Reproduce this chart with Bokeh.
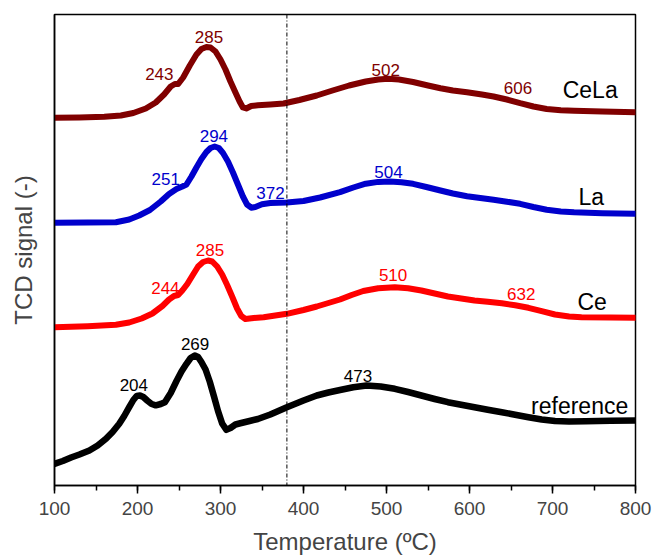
from bokeh.plotting import figure
from bokeh.models import Range1d, Span, SingleIntervalTicker, FixedTicker, ColumnDataSource
from bokeh.core.properties import value
from bokeh.embed import file_html
from bokeh.resources import INLINE

# ---- data (temperature in ºC, TCD signal in arbitrary units, curves stacked) ----
cela_T = [100, 130, 160, 180, 195, 210, 222, 232, 240, 245, 249, 255, 263, 271, 277, 283, 288, 294, 300, 306, 312, 318, 323, 327, 331, 337, 345, 360, 376, 395, 416, 435, 455, 475, 490, 502, 515, 532, 550, 565, 580, 597, 615, 629, 645, 661, 677, 693, 710, 726, 760, 800]
cela_y = [367.7, 368, 368.8, 370, 372.5, 377, 383, 391, 399, 401.5, 401.5, 408, 420, 431, 436.5, 438.5, 438, 434, 426, 416, 404, 393, 384, 378, 377, 379.5, 380.3, 381, 382, 385.5, 390, 395, 400, 404, 406, 406.7, 406, 403.5, 400, 397.3, 395, 393.3, 391, 389, 386, 382.3, 379, 376.5, 375.3, 374.8, 374, 373.3]

la_T = [100, 140, 174, 190, 202, 215, 228, 238, 247, 254, 259, 265, 271, 277, 283, 288, 293, 298, 303, 309, 315, 321, 327, 332, 337, 342, 350, 360, 380, 400, 420, 444, 460, 475, 490, 504, 518, 532, 548, 565, 580, 597, 613, 629, 645, 661, 677, 693, 710, 726, 760, 800]
la_y = [262.7, 262.9, 263.3, 266, 270, 275.5, 284, 291.5, 296.5, 299, 301, 309, 318, 326.5, 333.5, 337.5, 339, 337.5, 332.5, 324, 313, 301, 289, 281, 277.8, 278.5, 281.2, 282.5, 283, 284.5, 288, 293.3, 298, 301.8, 303.6, 304, 303.3, 301.7, 298.5, 295, 292, 289.3, 287.5, 285.7, 283.8, 281.7, 278.5, 275.7, 274, 273.2, 272.3, 271.7]

ce_T = [100, 140, 174, 190, 205, 218, 230, 238, 244, 249, 254, 260, 267, 273, 279, 285, 290, 296, 302, 308, 314, 320, 325, 330, 340, 352, 380, 400, 416, 430, 444, 458, 472, 490, 510, 526, 542, 558, 574, 590, 606, 622, 639, 655, 671, 687, 703, 720, 735, 770, 800]
ce_y = [158.3, 159.3, 160.7, 163, 167, 172, 179.5, 186, 189.5, 190.5, 195, 201.5, 211, 219, 223.5, 225, 224, 219, 211, 200.5, 189, 177, 169.5, 166.5, 167.5, 168.3, 171.7, 175.5, 179, 182.5, 186, 190.5, 194.5, 197.3, 198.3, 197.3, 195, 192, 189, 187, 185, 183.7, 182.3, 180.2, 177.7, 174.3, 171, 169, 168.3, 168, 167.7]

ref_T = [100, 110, 120, 130, 142, 152, 162, 170, 178, 184, 190, 195, 199, 203, 207, 212, 217, 222, 228, 233, 240, 247, 253, 259, 264, 269, 273, 277, 282, 287, 292, 297, 302, 307, 312, 318, 325, 335, 345, 360, 380, 400, 416, 430, 444, 460, 476, 493, 510, 526, 542, 558, 574, 590, 606, 622, 639, 655, 671, 687, 703, 720, 740, 770, 800]
ref_y = [21.7, 24.5, 28, 31, 35, 40, 46.7, 53.5, 61.7, 69.5, 78.3, 85.5, 89.5, 90, 88.5, 84.8, 81.5, 80.2, 81.5, 83.3, 92.5, 104.5, 114, 121.7, 127.5, 130, 128.5, 123.5, 116, 104, 89.5, 74.5, 62, 55.7, 57.5, 61, 62.5, 64.5, 66.5, 71, 78.3, 85, 90, 93, 95.5, 98.3, 100, 99, 96.7, 93.5, 90, 86.5, 83.3, 80.8, 78.3, 75.8, 73.3, 70.8, 68.3, 66, 64.4, 64, 64.2, 64.8, 65]

x_ticks = [100, 200, 300, 400, 500, 600, 700, 800]

# peak annotations: text, x (ºC), y (signal)
cela_peaks = ["243", "285", "502", "606"]
cela_px = [226.3, 286.1, 499.1, 658.5]
cela_py = [411.8, 448.5, 416, 397.3]

la_peaks = ["251", "294", "372", "504"]
la_px = [234.1, 292, 360.2, 502.4]
la_py = [307, 349.3, 292.6, 313.6]

ce_peaks = ["244", "285", "510", "632"]
ce_px = [233.6, 287.3, 507.9, 662.3]
ce_py = [197.3, 235.3, 210.6, 191.3]

ref_peaks = ["204", "269", "473"]
ref_px = [195.6, 269.4, 465.7]
ref_py = [100.6, 141.6, 110]

series_names = ["CeLa", "La", "Ce", "reference"]
series_nx = [745.4, 746.7, 747.8, 732.7]
series_ny = [395.7, 289, 184, 80]

FONT = "Liberation Sans"
C_CELA = "#800000"
C_LA = "#0000CC"
C_CE = "#FF0000"
C_REF = "#000000"

p = figure(width=653, height=559, output_backend="svg", toolbar_location=None,
           x_range=Range1d(100, 800), y_range=Range1d(0, 471),
           min_border_left=54, min_border_right=18, min_border_top=14, min_border_bottom=74)
p.background_fill_color = "white"
p.border_fill_color = "white"
p.outline_line_color = "black"
p.outline_line_width = 1.5
p.xgrid.visible = False
p.ygrid.visible = False

# curves
p.line(cela_T, cela_y, line_color=C_CELA, line_width=6, line_join="round", line_cap="round")
p.line(la_T, la_y, line_color=C_LA, line_width=6, line_join="round", line_cap="round")
p.line(ce_T, ce_y, line_color=C_CE, line_width=6, line_join="round", line_cap="round")
p.line(ref_T, ref_y, line_color=C_REF, line_width=6.5, line_join="round", line_cap="round")

# dash-dot vertical line
p.add_layout(Span(location=380, dimension="height", line_color="black", line_width=1, line_dash="4 2 1 2"))

def add_labels(xs, ys, texts, color, size):
    src = ColumnDataSource(dict(x=xs, y=ys, t=texts))
    p.text(x="x", y="y", text="t", source=src, text_color=color, text_font=value(FONT),
           text_font_size=size, text_align="center", text_baseline="alphabetic")

add_labels(cela_px, cela_py, cela_peaks, C_CELA, "17px")
add_labels(la_px, la_py, la_peaks, C_LA, "17px")
add_labels(ce_px, ce_py, ce_peaks, C_CE, "17px")
add_labels(ref_px, ref_py, ref_peaks, C_REF, "17px")
add_labels(series_nx, series_ny, series_names, "black", "23px")

# axes
xa = p.xaxis[0]
xa.ticker = SingleIntervalTicker(interval=100, num_minor_ticks=2)
xa.axis_label = "Temperature (ºC)"
xa.axis_label_text_font = FONT
xa.axis_label_text_font_size = "24px"
xa.axis_label_text_font_style = "normal"
xa.axis_label_standoff = 10
xa.major_label_text_font = FONT
xa.major_label_text_font_size = "19px"
xa.major_label_standoff = 8
xa.major_tick_out = 8
xa.major_tick_in = 0
xa.minor_tick_out = 5
xa.minor_tick_in = 0
xa.axis_line_width = 1.5
xa.major_tick_line_width = 1.5
xa.minor_tick_line_width = 1.5

ya = p.yaxis[0]
ya.ticker = FixedTicker(ticks=[])
ya.axis_label = "TCD signal (-)"
ya.axis_label_text_font = FONT
ya.axis_label_text_font_size = "24px"
ya.axis_label_text_font_style = "normal"
ya.axis_label_standoff = 18
ya.major_tick_line_color = None
ya.minor_tick_line_color = None
ya.axis_line_width = 1.5

open("out.html", "w").write(file_html(p, INLINE))
